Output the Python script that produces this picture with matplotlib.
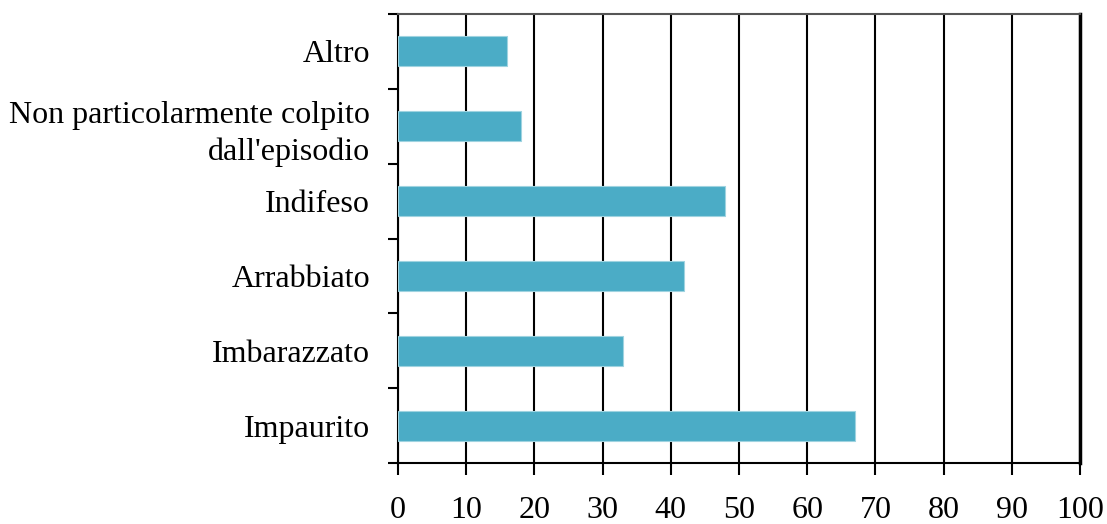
import matplotlib
matplotlib.use("Agg")
from matplotlib import pyplot as plt

# categories bottom -> top
categories = ["Impaurito", "Imbarazzato", "Arrabbiato", "Indifeso",
              "Non particolarmente colpito\ndall'episodio", "Altro"]
values = [67, 33, 42, 48, 18, 16]
xticks = [0, 10, 20, 30, 40, 50, 60, 70, 80, 90, 100]

plt.rcParams['font.family'] = ['Liberation Serif', 'DejaVu Serif']

fig = plt.figure(figsize=(11.07, 5.24), dpi=100)
ax = fig.add_axes([398 / 1107, 1 - 463 / 524, (1080 - 398) / 1107, (463 - 14) / 524])

pos = list(range(len(categories)))
ax.barh(pos, values, height=0.4, color="#4BACC6", edgecolor="#9fd3e0", linewidth=0.8, zorder=3)

ax.set_xlim(0, 100)
ax.set_ylim(-0.5, len(categories) - 0.5)
ax.set_xticks(xticks)
ax.set_xticklabels([str(t) for t in xticks], fontsize=23)
ax.grid(axis="x", color="black", linewidth=1.5, zorder=1)

# category labels centered, tick marks on the boundaries
ax.set_yticks(pos)
ax.set_yticklabels(categories, fontsize=23, ha="right", multialignment="right",
                   linespacing=1.35)
ax.tick_params(axis="y", length=0, pad=20)
ax.set_yticks([p - 0.5 for p in pos] + [len(categories) - 0.5], minor=True)
ax.tick_params(axis="y", which="minor", length=7, width=1.5, direction="out")
ax.tick_params(axis="x", length=8.5, width=1.5, direction="out", pad=15)

for s in ["left", "bottom", "top", "right"]:
    ax.spines[s].set_linewidth(1.5)
    ax.spines[s].set_color("black")
ax.spines["right"].set_linewidth(2.5)
ax.spines["top"].set_color("#555555")

fig.savefig("out.png", dpi=100)
